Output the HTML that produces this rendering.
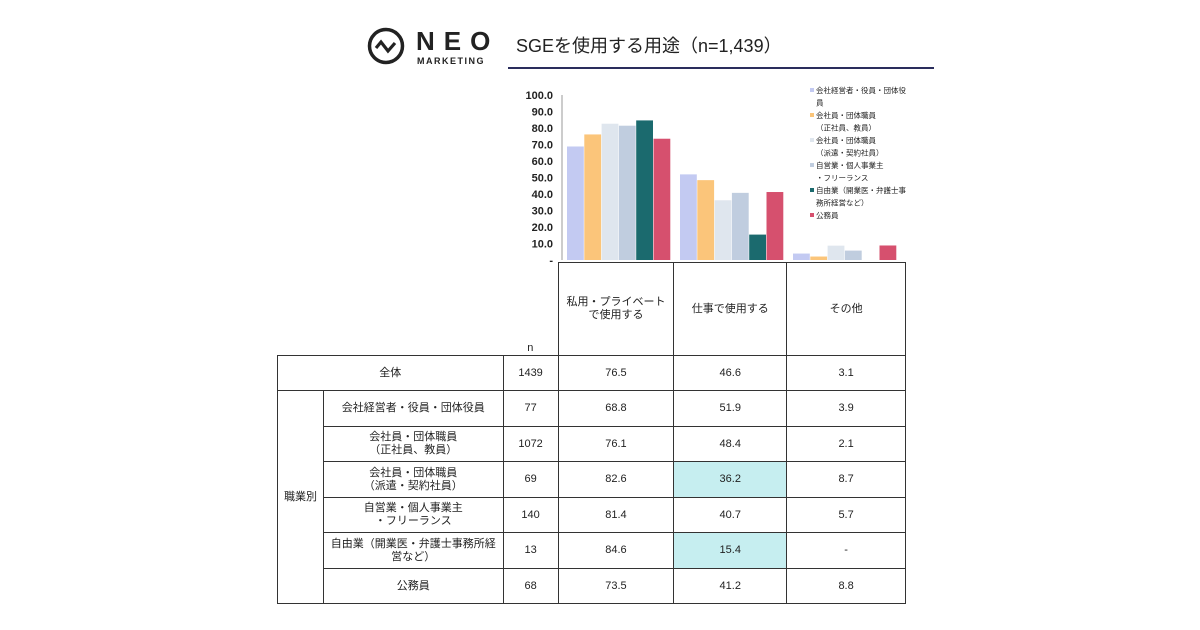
<!DOCTYPE html>
<html><head><meta charset="utf-8">
<style>
body{margin:0;background:#fff;font-family:"Liberation Sans","Noto Sans CJK JP",sans-serif;}
#root{position:relative;width:1200px;height:630px;overflow:hidden;}
.t{position:absolute;color:#222;}
table{position:absolute;border-collapse:collapse;font-size:11px;color:#222;}
td{border:1.5px solid #333;text-align:center;padding:0;line-height:13px;}
</style></head><body>
<div id="root">
<svg style="position:absolute;left:366px;top:26px" width="40" height="40">
<circle cx="20" cy="20" r="16.5" fill="none" stroke="#222" stroke-width="3.5"/>
<polyline points="10,22 15,16 22,25 29,17" fill="none" stroke="#222" stroke-width="3.2"/>
</svg>
<div class="t" style="left:416px;top:27px;font-size:26px;font-weight:bold;letter-spacing:9px;line-height:28px">NEO</div>
<div class="t" style="left:417px;top:56px;font-size:9px;font-weight:bold;letter-spacing:1.5px">MARKETING</div>
<div class="t" style="left:516px;top:34px;font-size:18px;line-height:24px">SGEを使用する用途（n=1,439）</div>
<div style="position:absolute;left:508px;top:67px;width:426px;height:2px;background:#2a2d5c"></div>
<svg id="chart" style="position:absolute;left:0;top:0" width="1200" height="270"></svg>
<table style="left:277px;top:262px;width:629px">
<colgroup><col style="width:46px"><col style="width:180px"><col style="width:55px"><col style="width:116px"><col style="width:113px"><col style="width:119px"></colgroup>
<tr style="height:93px"><td colspan="2" style="border-left:none;border-top:none;border-right:none"></td><td style="vertical-align:bottom;border-top:none;border-left:none">n</td><td>私用・プライベート<br>で使用する</td><td>仕事で使用する</td><td>その他</td></tr>
<tr style="height:35px"><td colspan="2">全体</td><td>1439</td><td>76.5</td><td>46.6</td><td>3.1</td></tr>
<tr style="height:36px"><td rowspan="6">職業別</td><td>会社経営者・役員・団体役員</td><td>77</td><td>68.8</td><td>51.9</td><td>3.9</td></tr>
<tr style="height:35px"><td>会社員・団体職員<br>（正社員、教員）</td><td>1072</td><td>76.1</td><td>48.4</td><td>2.1</td></tr>
<tr style="height:36px"><td>会社員・団体職員<br>（派遣・契約社員）</td><td>69</td><td>82.6</td><td style="background:#c6eef0">36.2</td><td>8.7</td></tr>
<tr style="height:35px"><td>自営業・個人事業主<br>・フリーランス</td><td>140</td><td>81.4</td><td>40.7</td><td>5.7</td></tr>
<tr style="height:36px"><td>自由業（開業医・弁護士事務所経<br>営など）</td><td>13</td><td>84.6</td><td style="background:#c6eef0">15.4</td><td>-</td></tr>
<tr style="height:35px"><td>公務員</td><td>68</td><td>73.5</td><td>41.2</td><td>8.8</td></tr>
</table>
</div>
<script>
const categories=["私用・プライベートで使用する","仕事で使用する","その他"];
const seriesNames=["会社経営者・役員・団体役員","会社員・団体職員（正社員、教員）","会社員・団体職員（派遣・契約社員）","自営業・個人事業主・フリーランス","自由業（開業医・弁護士事務所経営など）","公務員"];
const legendLines=[["会社経営者・役員・団体役","員"],["会社員・団体職員","（正社員、教員）"],["会社員・団体職員","（派遣・契約社員）"],["自営業・個人事業主","・フリーランス"],["自由業（開業医・弁護士事","務所経営など）"],["公務員"]];
const s1=[68.8,51.9,3.9];
const s2=[76.1,48.4,2.1];
const s3=[82.6,36.2,8.7];
const s4=[81.4,40.7,5.7];
const s5=[84.6,15.4,0];
const s6=[73.5,41.2,8.8];
const series=[s1,s2,s3,s4,s5,s6];
const colors=["#c3caf2","#fbc57a","#dfe6ee","#c0cddf","#1b6a6e","#d6506e"];
const ticks=[0,10,20,30,40,50,60,70,80,90,100];
const svg=document.getElementById('chart');
const NS='http://www.w3.org/2000/svg';
const y0=260,yTop=95,x0=562,gw=113;
const y=v=>y0-(v/100)*(y0-yTop);
function el(t,a){const e=document.createElementNS(NS,t);for(const k in a)e.setAttribute(k,a[k]);svg.appendChild(e);return e;}
const ax=el('line',{x1:x0,y1:yTop,x2:x0,y2:y0,stroke:'#999'});


ticks.forEach(t=>{
 const tx=el('text',{x:553,y:y(t)+4,'text-anchor':'end','font-size':'11','font-weight':'bold',fill:'#222'});
 tx.textContent=t===0?'-':t.toFixed(1);
 
 
});
categories.forEach((c,ci)=>{
 series.forEach((s,si)=>{
  const v=s[ci]; if(!v) return;
  const r=el('rect',{x:x0+ci*gw+5+si*17.3,y:y(v),width:16.8,height:y0-y(v),fill:colors[si]});
  
  
 });
});
let ly=92;
legendLines.forEach((ls,i)=>{
 const m=el('rect',{x:810,y:ly-4,width:4,height:4,fill:colors[i]});
 
 
 ls.forEach(l=>{
  const t=el('text',{x:816,y:ly+1,'font-size':'7.5',fill:'#222'});
  t.textContent=l;
  
  
  ly+=12.5;
 });
});
</script>
</body></html>
